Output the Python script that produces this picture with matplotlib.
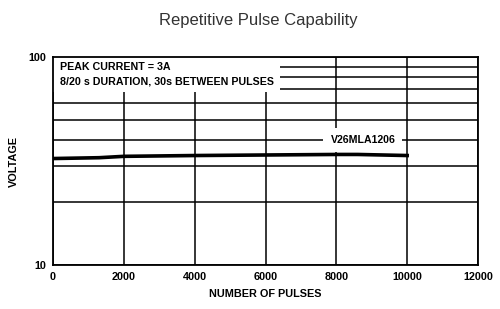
import matplotlib
matplotlib.use("Agg")
import matplotlib.pyplot as plt
from matplotlib.patches import Rectangle
from matplotlib.ticker import LogLocator, NullFormatter, FixedLocator

plt.rcParams["font.family"] = ["Liberation Sans", "DejaVu Sans"]

# curve
pulses = [0, 1300, 2000, 4000, 6000, 8000, 8600, 10000]
voltage = [32.5, 32.8, 33.3, 33.6, 33.8, 34.0, 34.0, 33.6]

x_ticks = [0, 2000, 4000, 6000, 8000, 10000, 12000]
y_ticks = [10, 100]
note_lines = ["PEAK CURRENT = 3A", "8/20 s DURATION, 30s BETWEEN PULSES"]
curve_label = "V26MLA1206"

fig = plt.figure(figsize=(5, 3.09), dpi=100)
ax = fig.add_axes([0.106, 0.1424, 0.85, 0.6731])

ax.set_yscale("log")
ax.set_xlim(0, 12000)
ax.set_ylim(10, 100)
ax.xaxis.set_major_locator(FixedLocator(x_ticks))
ax.yaxis.set_major_locator(FixedLocator(y_ticks))
ax.yaxis.set_minor_locator(LogLocator(subs=range(2, 10)))
ax.yaxis.set_minor_formatter(NullFormatter())
ax.set_yticklabels([str(v) for v in y_ticks])

ax.set_axisbelow(True)
ax.grid(True, which="both", color="black", linewidth=1.1)
ax.tick_params(which="both", length=0, labelsize=7.8, pad=5)
for lbl in ax.get_xticklabels() + ax.get_yticklabels():
    lbl.set_fontweight("bold")
for s in ax.spines.values():
    s.set_linewidth(1.3)

# white block behind the note, hides the grid
ax.add_patch(Rectangle((0, 68), 6400, 32, facecolor="white", edgecolor="none", zorder=1))

ax.plot(pulses, voltage, color="black", linewidth=2.6, zorder=2)

ax.text(200, 82.5, note_lines[0] + "\n" + note_lines[1], fontsize=7.7, fontweight="bold",
        va="center", ha="left", linespacing=1.55, zorder=3)
ax.text(8750, 40, curve_label, fontsize=7.6, fontweight="bold", ha="center", va="center",
        zorder=3, bbox=dict(facecolor="white", edgecolor="none", pad=5))

ax.set_xlabel("NUMBER OF PULSES", fontsize=7.8, fontweight="bold", labelpad=5)
ax.set_ylabel("VOLTAGE", fontsize=7.8, fontweight="bold", labelpad=7)
fig.suptitle("Repetitive Pulse Capability", x=0.516, y=0.958, fontsize=12, color="#333333")

fig.savefig("out.png", dpi=100)
